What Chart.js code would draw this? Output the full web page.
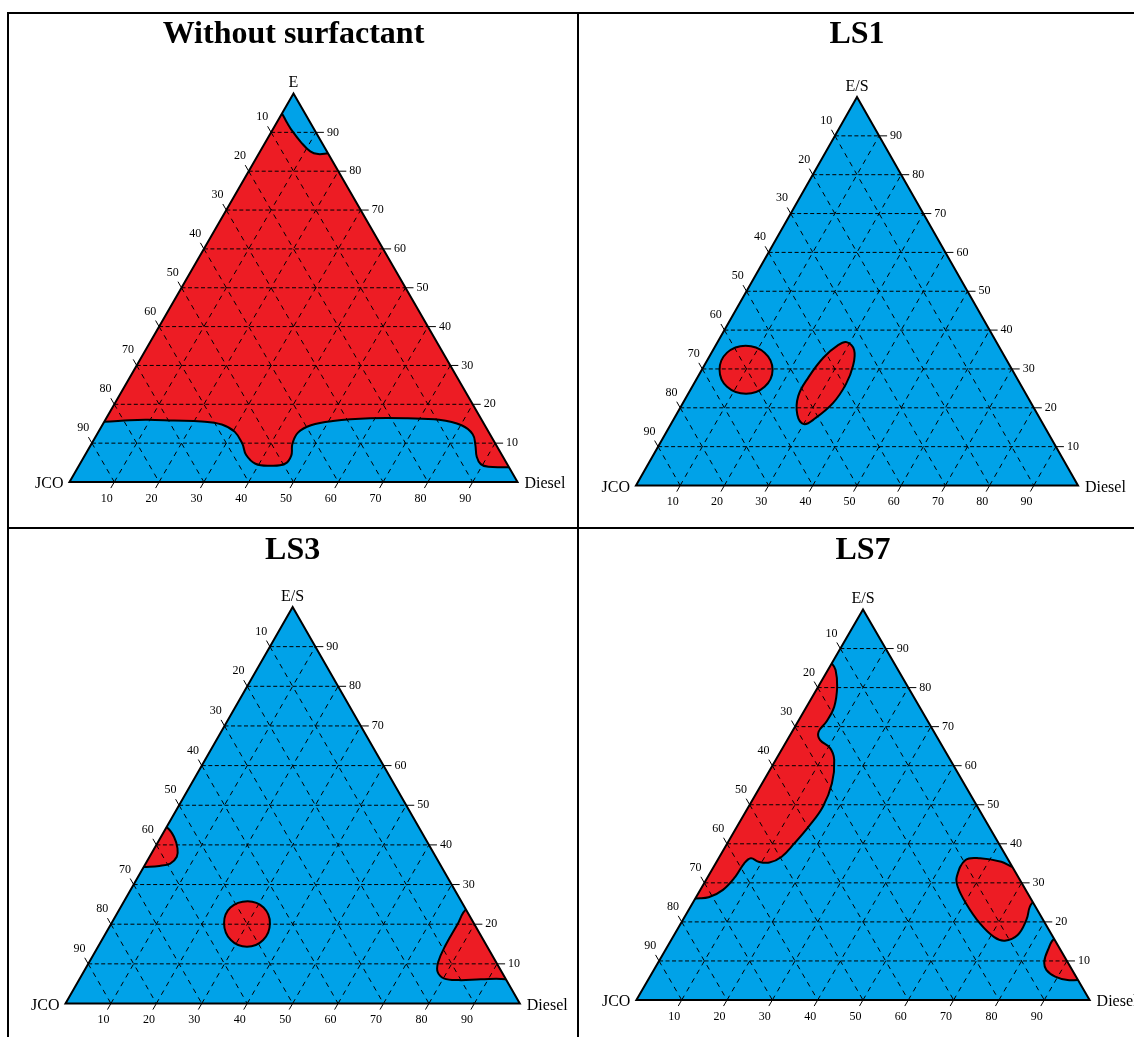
<!DOCTYPE html>
<html>
<head>
<meta charset="utf-8">
<title>Pseudo-ternary phase diagrams</title>
<script src="https://cdn.jsdelivr.net/npm/chart.js@4.4.1/dist/chart.umd.min.js"></script>
<style>
  html, body { margin: 0; padding: 0; background: #fff; }
  #sheet { position: relative; width: 1134px; height: 1037px; overflow: hidden; background: #fff; }
  .rule { position: absolute; background: #000; }
  #sheet canvas { position: absolute; }
</style>
</head>
<body>
<div id="sheet">
  <div class="rule" style="left:7px;top:12px;width:1127px;height:2px"></div>
  <div class="rule" style="left:7px;top:12px;width:2px;height:1025px"></div>
  <div class="rule" style="left:577px;top:12px;width:2px;height:1025px"></div>
  <div class="rule" style="left:7px;top:527px;width:1127px;height:2px"></div>
</div>
<script>
const RED = '#ED1C24';
const BLUE = '#00A2E8';

// Axis graduations (percent) shared by all three sides
const gridTicks = [10, 20, 30, 40, 50, 60, 70, 80, 90];
const panelTitles = ['Without surfactant', 'LS1', 'LS3', 'LS7'];
const apexNames = ['E', 'E/S', 'E/S', 'E/S'];
const leftName = 'JCO';
const rightName = 'Diesel';

// Phase boundaries, each point as [Diesel %, E(/S) %]; JCO makes up the rest.
// Points with a negative share (or a sum above 100) sit just past an edge and
// only close the outline: everything is clipped to the triangle when drawn.
const noSurfTopCap = [[-3, 97], [0, 94.8], [2.2, 92.6], [4.6, 90.3], [7.9, 87.5], [11.2, 85.1],
  [13.3, 84.4], [15.4, 84.6], [19, 85], [10, 100], [-5, 104]];
const noSurfBottomBand = [[-3.8, 15.6], [0, 15.5], [5.45, 15.9], [9.5, 16], [15.4, 15.8], [21.7, 15.6],
  [26.6, 14.8], [30.45, 12.9], [33.7, 9.8], [35.9, 7], [39.15, 4.7], [42.7, 4.2], [45.75, 4.7],
  [46.1, 6.8], [44.85, 9.8], [44.65, 12.7], [46.6, 14.6], [50.95, 15.7], [58.9, 16.4], [67.2, 16.4],
  [74.5, 16], [80.2, 14.6], [83.85, 12.3], [85.85, 9.5], [87.65, 6.5], [89.5, 4.6], [91.55, 3.9],
  [96.2, 3.8], [100.5, 3.6], [109, -6], [56, -12], [-3, -6]];

const ls1Round = [[16, 29.8], [12, 34.2], [6.8, 36], [3.5, 34.2], [4, 29.8], [7.9, 25.4], [13.1, 23.6], [16.4, 25.4]];
const ls1Oblong = [[29.2, 36.9], [31.9, 34.9], [33.7, 30.8], [34.45, 26.1], [33.95, 21.2], [31.9, 17.3],
  [30.1, 15.8], [27.4, 18.2], [25.2, 23], [25.1, 27.9], [25.95, 32.95], [27.7, 36.2]];

const ls3EdgeLobe = [[-5, 46.5], [0, 44.5], [2.9, 42], [5.1, 39.1], [6, 37], [5.4, 35.3], [3.3, 34.7],
  [0, 34.4], [-4, 34], [-8, 40]];
const ls3Round = [[34.9, 20.2], [31.5, 24.2], [27.2, 25.8], [24.2, 24.2], [24.8, 20.2], [28.4, 16], [32.8, 14.3], [35.5, 16]];
const ls3DieselCorner = [[76.4, 24], [76.3, 19.8], [76.3, 14.7], [76.8, 10.5], [77.9, 8], [80.1, 6.35],
  [83.6, 5.9], [88.4, 6.1], [93.9, 6.1], [98, 5], [96, 15], [81, 28]];

const ls7LeftBand = [[0, 86.2], [1.7, 84.5], [4.2, 80.2], [6.1, 75.1], [6.3, 71.3], [5.85, 68.7], [7.2, 66.6],
  [10.5, 64.5], [12.9, 61.5], [15.4, 55.5], [16.4, 49.5], [15.8, 44.4], [14.8, 40.1], [13.7, 36.7],
  [11.75, 35.2], [9.25, 35.4], [7.1, 36.3], [6.3, 35], [6.05, 31.6], [5, 28.2], [2.8, 26.3], [0, 26],
  [-4, 25], [-8, 55], [-4, 89]];
const ls7RightLobe = [[54.9, 31.6], [54.7, 35.85], [57.7, 36.3], [62.8, 35.4], [66.3, 34], [72, 34], [78, 27],
  [74.9, 24.8], [75.8, 20.5], [75.8, 16.65], [73.7, 15.2], [70.9, 16.1], [66, 19.6], [60.3, 24.8], [56.4, 29]];
const ls7DieselCorner = [[84.45, 15.8], [84.4, 12.8], [85.1, 9.8], [86.6, 7.7], [89.4, 6], [92.6, 5.1],
  [94.9, 5.1], [99, 5], [96, 12], [89, 17]];

// Which phase fills each diagram and which islands sit on top of it
const panelFill = [RED, BLUE, BLUE, BLUE];
const panelIslands = [
  [noSurfTopCap, noSurfBottomBand],
  [ls1Round, ls1Oblong],
  [ls3EdgeLobe, ls3Round, ls3DieselCorner],
  [ls7LeftBand, ls7RightLobe, ls7DieselCorner]
];
const islandColor = [BLUE, RED, RED, RED];

// Page geometry: cell box and where the triangle sits inside the page
const panelLayout = [
  { x: 9,   y: 14,  w: 568, h: 513, left: 69.5,  right: 517.5,  base: 482,    apex: 93.5,  titleY: 28.5 },
  { x: 579, y: 14,  w: 555, h: 513, left: 636,   right: 1078,   base: 485.5,  apex: 97,    titleY: 28.5 },
  { x: 9,   y: 529, w: 568, h: 508, left: 65.5,  right: 519.8,  base: 1003.5, apex: 607,   titleY: 30 },
  { x: 579, y: 529, w: 555, h: 508, left: 636.4, right: 1089.6, base: 1000,   apex: 609.5, titleY: 30 }
];

// Ternary [Diesel, E] -> cartesian data values (x along the base, y = height)
const toXY = ([d, e]) => ({ x: d + e / 2, y: e });

function gridData(kind) {
  const pts = [];
  gridTicks.forEach(v => {
    let a, b;
    if (kind === 'E') { a = [0, v]; b = [100 - v, v]; }
    else if (kind === 'JCO') { a = [0, 100 - v]; b = [100 - v, 0]; }
    else { a = [v, 0]; b = [v, 100 - v]; }
    pts.push(toXY(a), toXY(b), { x: 0, y: null });
  });
  return pts;
}

function corner(chart, d, e) {
  return [chart.scales.x.getPixelForValue(d + e / 2), chart.scales.y.getPixelForValue(e)];
}

function trianglePath(chart) {
  const c = chart.ctx;
  const a = corner(chart, 0, 100), l = corner(chart, 0, 0), r = corner(chart, 100, 0);
  c.beginPath();
  c.moveTo(l[0], l[1]);
  c.lineTo(r[0], r[1]);
  c.lineTo(a[0], a[1]);
  c.closePath();
}

const ternaryFrame = {
  id: 'ternaryFrame',
  afterDatasetUpdate(chart, args) {
    // phase islands are closed outlines
    if (!chart.data.datasets[args.index].closed) return;
    const line = args.meta.dataset;
    line._loop = true;
    line._pointsUpdated = false;
    delete line._segments;
    delete line._path;
  },
  beforeDatasetsDraw(chart) {
    chart.ctx.save();
    trianglePath(chart);
    chart.ctx.clip();
  },
  afterDatasetsDraw(chart, args, opts) {
    const ctx = chart.ctx;
    ctx.restore();
    ctx.save();
    trianglePath(chart);
    ctx.lineWidth = 2;
    ctx.strokeStyle = '#000';
    ctx.lineJoin = 'miter';
    ctx.stroke();

    const A = corner(chart, 0, 100), L = corner(chart, 0, 0), R = corner(chart, 100, 0);
    const unit = (p, q) => { const dx = q[0] - p[0], dy = q[1] - p[1], n = Math.hypot(dx, dy); return [dx / n, dy / n]; };
    const upLeft = unit(R, A);
    const downLeft = unit(A, L);
    const seg = (p, q) => { ctx.beginPath(); ctx.moveTo(p[0], p[1]); ctx.lineTo(q[0], q[1]); ctx.stroke(); };

    ctx.lineWidth = 1;
    ctx.fillStyle = '#000';
    ctx.font = '12px "Liberation Serif", "Times New Roman", serif';
    ctx.textBaseline = 'middle';
    gridTicks.forEach(v => {
      // E scale along the right edge
      let p = corner(chart, 100 - v, v);
      seg(p, [p[0] + 8, p[1]]);
      ctx.textAlign = 'left';
      ctx.fillText(String(v), p[0] + 11, p[1]);
      // JCO scale along the left edge
      p = corner(chart, 0, 100 - v);
      seg(p, [p[0] + upLeft[0] * 7, p[1] + upLeft[1] * 7]);
      ctx.textAlign = 'center';
      ctx.fillText(String(v), p[0] + upLeft[0] * 17.5, p[1] + upLeft[1] * 17.5);
      // Diesel scale along the base
      p = corner(chart, v, 0);
      seg(p, [p[0] + downLeft[0] * 7, p[1] + downLeft[1] * 7]);
      ctx.fillText(String(v), p[0] + downLeft[0] * 15, p[1] + downLeft[1] * 15 + 3.5);
    });

    ctx.textBaseline = 'alphabetic';
    ctx.font = '16px "Liberation Serif", "Times New Roman", serif';
    ctx.textAlign = 'center';
    ctx.fillText(opts.apex, A[0], A[1] - 6.5);
    ctx.textAlign = 'right';
    ctx.fillText(leftName, L[0] - 6, L[1] + 6);
    ctx.textAlign = 'left';
    ctx.fillText(rightName, R[0] + 7, R[1] + 6);

    ctx.font = 'bold 32px "Liberation Serif", "Times New Roman", serif';
    ctx.textAlign = 'center';
    ctx.fillText(opts.title, A[0], opts.titleY);
    ctx.restore();
  }
};

function buildDatasets(i) {
  const sets = [{
    data: [[0, 0], [100, 0], [0, 100]].map(toXY),
    closed: true, spanGaps: true, fill: 'shape',
    backgroundColor: panelFill[i], borderWidth: 0, tension: 0,
    pointRadius: 0, order: 3
  }];
  panelIslands[i].forEach(pts => sets.push({
    data: pts.map(toXY),
    closed: true, spanGaps: true, fill: 'shape',
    backgroundColor: islandColor[i], borderColor: '#000', borderWidth: 2,
    tension: 0.4, capBezierPoints: false, pointRadius: 0, order: 2
  }));
  sets.push({
    data: gridData('E'), spanGaps: false, fill: false,
    borderColor: '#000', borderWidth: 1, borderDash: [4, 2.5], tension: 0,
    pointRadius: 0, order: 1
  });
  sets.push({
    data: gridData('JCO').concat(gridData('Diesel')), spanGaps: false, fill: false,
    borderColor: '#000', borderWidth: 1, borderDash: [5, 5], tension: 0,
    pointRadius: 0, order: 1
  });
  return sets;
}

const sheet = document.getElementById('sheet');
panelLayout.forEach((g, i) => {
  const cv = document.createElement('canvas');
  cv.width = g.w; cv.height = g.h;
  cv.style.left = g.x + 'px'; cv.style.top = g.y + 'px';
  cv.style.width = g.w + 'px'; cv.style.height = g.h + 'px';
  sheet.appendChild(cv);
  new Chart(cv, {
    type: 'line',
    data: { datasets: buildDatasets(i) },
    plugins: [ternaryFrame],
    options: {
      responsive: false,
      animation: false,
      devicePixelRatio: 1,
      events: [],
      layout: {
        padding: {
          left: g.left - g.x,
          right: g.x + g.w - g.right,
          top: g.apex - g.y,
          bottom: g.y + g.h - g.base
        }
      },
      scales: {
        x: { type: 'linear', min: 0, max: 100, display: false },
        y: { type: 'linear', min: 0, max: 100, display: false }
      },
      plugins: {
        legend: { display: false },
        tooltip: { enabled: false },
        ternaryFrame: { title: panelTitles[i], apex: apexNames[i], titleY: g.titleY }
      }
    }
  });
});
</script>
</body>
</html>
